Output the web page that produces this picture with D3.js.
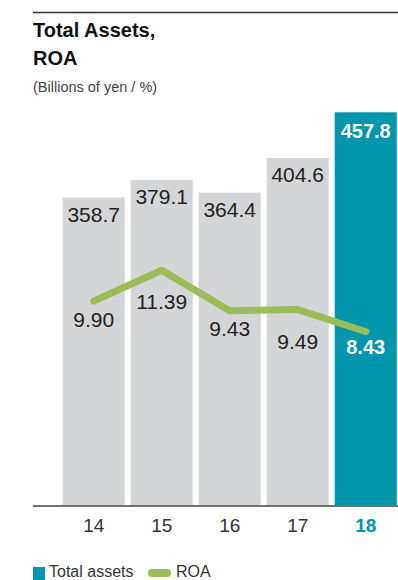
<!DOCTYPE html>
<html>
<head>
<meta charset="utf-8">
<script src="https://cdn.jsdelivr.net/npm/d3@7"></script>
<style>
  html, body { margin: 0; padding: 0; background: #fff; }
  svg { display: block; font-family: "Liberation Sans", Arial, sans-serif; }
</style>
</head>
<body>
<svg id="chart" width="398" height="580"></svg>
<script>
// Fiscal years, total assets (billions of yen) and ROA (%)
const years = ["14", "15", "16", "17", "18"];
const totalAssets = [358.7, 379.1, 364.4, 404.6, 457.8];
const roa = [9.90, 11.39, 9.43, 9.49, 8.43];
const assetLabels = ["358.7", "379.1", "364.4", "404.6", "457.8"];
const roaLabels = ["9.90", "11.39", "9.43", "9.49", "8.43"];
const legendItems = ["Total assets", "ROA"];

const GRAY = "#d4d5d7";
const TEAL = "#0096ad";
const GREEN = "#9dbb57";
const TEXT = "#222";

const svg = d3.select("#chart");
const baseline = 506;
const current = years.length - 1;

// Header
svg.append("line")
  .attr("x1", 33).attr("x2", 398).attr("y1", 12.5).attr("y2", 12.5)
  .attr("stroke", "#333").attr("stroke-width", 1.5);
svg.append("text").attr("x", 33).attr("y", 36.5)
  .attr("font-size", 20).attr("font-weight", "bold").attr("fill", "#111")
  .text("Total Assets,");
svg.append("text").attr("x", 33).attr("y", 64.5)
  .attr("font-size", 20).attr("font-weight", "bold").attr("fill", "#111")
  .text("ROA");
svg.append("text").attr("x", 33).attr("y", 92)
  .attr("font-size", 14.5).attr("fill", "#444")
  .text("(Billions of yen / %)");

// Scales
const x = d3.scaleBand()
  .domain(years)
  .range([59.7, 399.7])
  .paddingInner(0.088)
  .paddingOuter(0.044);
const yAssets = d3.scaleLinear().domain([0, 500]).range([baseline, baseline - 430]);
const yRoa = d3.scaleLinear().domain([0, 20]).range([baseline, baseline - 414]);
const cx = d => x(d) + x.bandwidth() / 2;

// Bars
svg.append("g").selectAll("rect")
  .data(years)
  .join("rect")
  .attr("x", d => x(d))
  .attr("width", x.bandwidth())
  .attr("y", (d, i) => yAssets(totalAssets[i]))
  .attr("height", (d, i) => yAssets(0) - yAssets(totalAssets[i]))
  .attr("fill", (d, i) => i === current ? TEAL : GRAY);

// Bar value labels
svg.append("g").selectAll("text")
  .data(years)
  .join("text")
  .attr("x", d => cx(d))
  .attr("y", (d, i) => yAssets(totalAssets[i]) + (i === current ? 26 : 24))
  .attr("text-anchor", "middle")
  .attr("font-size", (d, i) => i === current ? 20 : 21)
  .attr("font-weight", (d, i) => i === current ? "bold" : "normal")
  .attr("fill", (d, i) => i === current ? "#fff" : TEXT)
  .text((d, i) => assetLabels[i]);

// Axis baseline and year labels
const axis = svg.append("g")
  .attr("transform", `translate(0,${baseline})`)
  .call(d3.axisBottom(x).tickSize(0).tickPadding(0));
axis.select(".domain").remove();
axis.selectAll(".tick text")
  .attr("dy", 0)
  .attr("y", 26)
  .attr("font-size", 19)
  .attr("font-family", "Liberation Sans, Arial, sans-serif")
  .attr("fill", (d, i) => i === current ? TEAL : "#333")
  .attr("font-weight", (d, i) => i === current ? "bold" : "normal");
svg.append("line")
  .attr("x1", 33).attr("x2", 398).attr("y1", baseline).attr("y2", baseline)
  .attr("stroke", "#707070").attr("stroke-width", 2);

// ROA line
const line = d3.line()
  .x((d, i) => cx(years[i]))
  .y(d => yRoa(d));
svg.append("path")
  .datum(roa)
  .attr("d", line)
  .attr("fill", "none")
  .attr("stroke", GREEN)
  .attr("stroke-width", 7)
  .attr("stroke-linecap", "round")
  .attr("stroke-linejoin", "round");

// ROA labels sit below the line; a peak needs extra room under its two segments
const isPeak = i => i > 0 && i < roa.length - 1 && roa[i] > roa[i - 1] && roa[i] > roa[i + 1];
svg.append("g").selectAll("text")
  .data(roa)
  .join("text")
  .attr("x", (d, i) => cx(years[i]))
  .attr("y", (d, i) => yRoa(d) + (isPeak(i) ? 39 : (i === current ? 22.5 : 25.5)))
  .attr("text-anchor", "middle")
  .attr("font-size", (d, i) => i === current ? 20 : 21)
  .attr("font-weight", (d, i) => i === current ? "bold" : "normal")
  .attr("fill", (d, i) => i === current ? "#fff" : TEXT)
  .text((d, i) => roaLabels[i]);

// Legend
const legend = svg.append("g");
legend.append("rect")
  .attr("x", 33).attr("y", 567).attr("width", 12).attr("height", 13)
  .attr("fill", TEAL);
legend.append("text")
  .attr("x", 49).attr("y", 576.5)
  .attr("font-size", 16).attr("fill", "#333")
  .text(legendItems[0]);
legend.append("rect")
  .attr("x", 148).attr("y", 569).attr("width", 23).attr("height", 8).attr("rx", 4)
  .attr("fill", GREEN);
legend.append("text")
  .attr("x", 176).attr("y", 576.5)
  .attr("font-size", 16).attr("fill", "#333")
  .text(legendItems[1]);
</script>
</body>
</html>
